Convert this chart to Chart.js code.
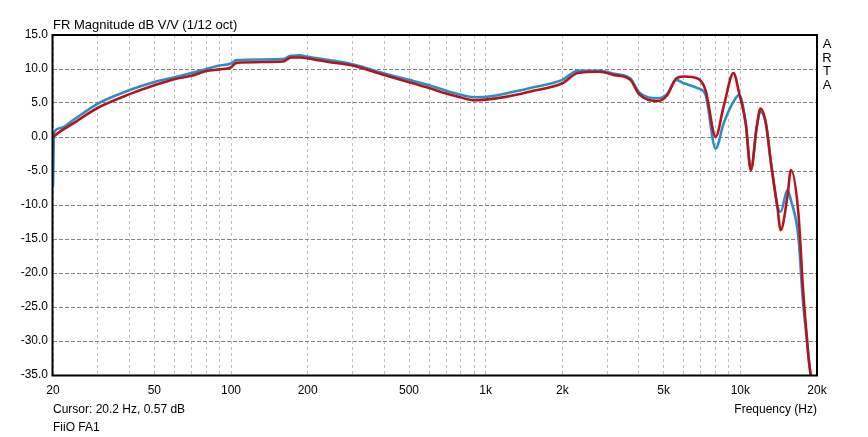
<!DOCTYPE html>
<html>
<head>
<meta charset="utf-8">
<script src="https://cdn.jsdelivr.net/npm/chart.js@4/dist/chart.umd.min.js"></script>
<style>
  html, body { margin: 0; padding: 0; background: #fff; }
  #wrap { position: relative; width: 868px; height: 437px; background: #fff; overflow: hidden; }
  canvas { position: absolute; left: 0; top: 0; }
  .t { position: absolute; font-family: "Liberation Sans", Arial, sans-serif; color: #000; white-space: nowrap; line-height: 1; }
</style>
</head>
<body>
<div id="wrap">
  <canvas id="c" width="868" height="437"></canvas>
  <div class="t" id="title" style="left:53px; top:18px; font-size:13px;">FR Magnitude dB V/V (1/12 oct)</div>
  <div class="t" id="cursor" style="left:53px; top:403px; font-size:12px;">Cursor: 20.2 Hz, 0.57 dB</div>
  <div class="t" id="name" style="left:53px; top:421px; font-size:12px;">FiiO FA1</div>
  <div class="t" id="xlabel" style="right:51px; top:403px; font-size:12px;">Frequency (Hz)</div>
  <div class="t" id="arta" style="left:821px; top:37px; font-size:13px; width:12px; text-align:center; line-height:13.7px;">A<br>R<br>T<br>A</div>
</div>
<script>
// ---- data ----
const redFreq = [20, 21.3, 24, 30, 40, 50, 60, 70, 80, 90, 100, 105, 160, 172, 187, 200, 245, 300, 400, 500, 600, 700, 800, 900, 1000, 1200, 1500, 2000, 2300, 2800, 3200, 3700, 4000, 4750, 5150, 5600, 6000, 6800, 7300, 8000, 8600, 9400, 9900, 10500, 11000, 11600, 12000, 12600, 13200, 14000, 14400, 15300, 15800, 16900, 17600, 18200, 18600, 19400];
const redDb   = [0.0, 0.8, 2.0, 4.3, 6.3, 7.6, 8.5, 9.0, 9.7, 9.95, 10.25, 10.9, 11.1, 11.7, 11.7, 11.55, 11.0, 10.5, 9.1, 8.05, 7.2, 6.4, 5.8, 5.4, 5.5, 5.9, 6.7, 7.9, 9.4, 9.6, 9.1, 8.4, 6.3, 5.3, 6.1, 8.6, 8.9, 8.6, 6.9, 0.05, 4.5, 9.4, 6.4, 2.0, -4.85, 1.5, 4.2, 2.0, -3.9, -10.5, -13.7, -8.8, -4.85, -11.2, -22.0, -29.0, -33.0, -38.0];

const blueFreq = [20, 20.2, 21.3, 24, 30, 40, 50, 60, 70, 80, 90, 100, 105, 160, 172, 187, 200, 245, 300, 400, 500, 600, 700, 800, 900, 1000, 1200, 1500, 2000, 2300, 2800, 3200, 3700, 4000, 4750, 5150, 5600, 6000, 6800, 7300, 8000, 8600, 9400, 9900, 10500, 11000, 11600, 12000, 12600, 13200, 14000, 14400, 15300, 15800, 16900, 17600, 18200, 18600, 19400];
const blueDb   = [-7.3, 0.6, 1.3, 2.5, 4.9, 6.9, 8.1, 8.8, 9.4, 10.0, 10.5, 10.8, 11.3, 11.45, 11.95, 12.0, 11.8, 11.3, 10.7, 9.35, 8.4, 7.6, 6.8, 6.2, 5.85, 5.9, 6.4, 7.2, 8.4, 9.75, 9.75, 9.3, 8.6, 6.6, 5.7, 6.3, 8.4, 7.9, 7.2, 6.2, -1.7, 2.0, 5.2, 6.2, 2.0, -4.85, 1.5, 3.7, 2.0, -3.9, -10.2, -11.0, -7.8, -9.3, -14.7, -24.0, -29.4, -33.0, -38.0];

const xGrid = [20, 30, 40, 50, 60, 70, 80, 90, 100, 200, 300, 400, 500, 600, 700, 800, 900, 1000, 2000, 3000, 4000, 5000, 6000, 7000, 8000, 9000, 10000, 20000];
const xTickValues = [20, 50, 100, 200, 500, 1000, 2000, 5000, 10000, 20000];
const xTickLabels = ['20', '50', '100', '200', '500', '1k', '2k', '5k', '10k', '20k'];
const yMin = -35, yMax = 15, yStep = 5;

const toPts = (f, v) => f.map((x, i) => ({ x: x, y: v[i] }));

const frame = {
  id: 'frame',
  afterDatasetsDraw(chart) {
    const a = chart.chartArea, ctx = chart.ctx;
    ctx.save();
    ctx.strokeStyle = '#000';
    ctx.lineWidth = 2;
    ctx.setLineDash([]);
    ctx.strokeRect(a.left - 0.5, a.top, a.right - a.left + 0.5, a.bottom - a.top + 0.5);
    ctx.restore();
  }
};
const bg = {
  id: 'bg',
  beforeDraw(chart) {
    const ctx = chart.ctx;
    ctx.save();
    ctx.fillStyle = '#fff';
    ctx.fillRect(0, 0, chart.width, chart.height);
    ctx.restore();
  }
};

new Chart(document.getElementById('c'), {
  type: 'line',
  data: {
    datasets: [
      { label: 'Red', data: toPts(redFreq, redDb), borderColor: '#b5141f', borderWidth: 2.6, pointRadius: 0, cubicInterpolationMode: 'monotone', fill: false },
      { label: 'Blue', data: toPts(blueFreq, blueDb), borderColor: '#2b8fc6', borderWidth: 2.6, pointRadius: 0, cubicInterpolationMode: 'monotone', fill: false }
    ]
  },
  options: {
    responsive: false,
    animation: false,
    devicePixelRatio: 1,
    layout: { padding: { left: 0, top: 35, right: 51, bottom: 42 } },
    plugins: { legend: { display: false }, tooltip: { enabled: false } },
    scales: {
      x: {
        type: 'logarithmic',
        min: 20, max: 20000,
        bounds: 'data',
        afterBuildTicks: (s) => { s.ticks = xGrid.map(v => ({ value: v })); },
        afterFit: (s) => { s.height = 20; },
        ticks: {
          autoSkip: false, maxRotation: 0, minRotation: 0, padding: 8,
          color: '#000',
          font: { family: '"Liberation Sans", Arial, sans-serif', size: 12 },
          callback: (v) => {
            const i = xTickValues.findIndex(t => Math.abs(t - v) < 1e-6 * t);
            return i >= 0 ? xTickLabels[i] : '';
          }
        },
        grid: { color: '#bdbdbd', lineWidth: 1, drawTicks: false },
        border: { display: false, dash: [3, 3] }
      },
      y: {
        min: yMin, max: yMax,
        afterFit: (s) => { s.width = 53; },
        ticks: {
          stepSize: yStep, padding: 5, color: '#000',
          font: { family: '"Liberation Sans", Arial, sans-serif', size: 12 },
          callback: (v) => Number(v).toFixed(1)
        },
        grid: { color: '#808080', lineWidth: 1, drawTicks: false },
        border: { display: false, dash: [4, 2] }
      }
    }
  },
  plugins: [bg, frame]
});
</script>
</body>
</html>
